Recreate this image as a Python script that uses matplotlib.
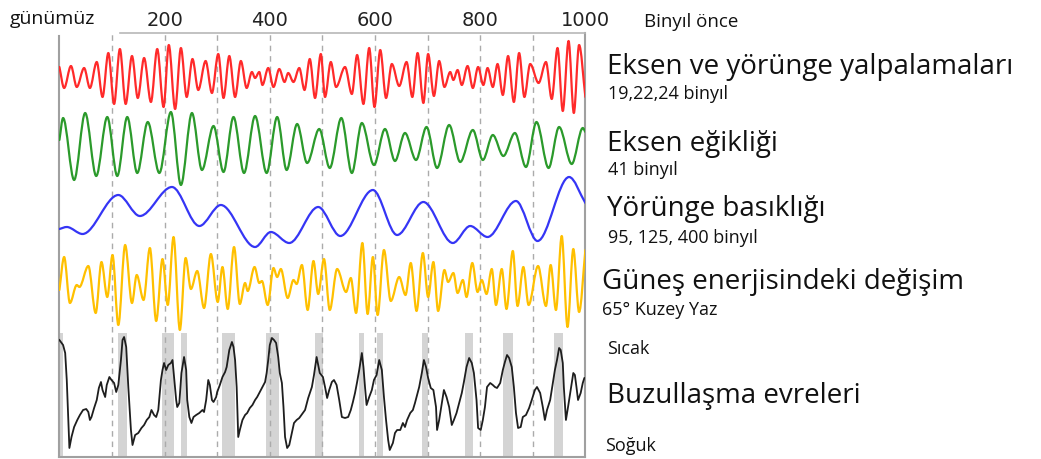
import matplotlib
matplotlib.use("Agg")
import matplotlib.pyplot as plt
from matplotlib.path import Path
from matplotlib.patches import PathPatch

# ---- data: time in thousands of years before present, amplitudes in relative units ----
red_kyr = [0, 9, 22, 33, 47, 58, 71, 82, 93, 104, 115, 126, 138, 149, 161, 174, 186, 198, 208, 220,
           231, 242, 253, 264, 278, 290, 302, 312, 323, 334, 345, 356, 366, 372, 380, 386, 397, 407, 418, 428,
           435, 445, 456, 466, 476, 486, 497, 505, 516, 526, 543, 556, 566, 578, 589, 599, 610, 621, 632, 646,
           660, 671, 681, 692, 701, 712, 722, 732, 743, 749, 757, 765, 776, 786, 796, 806, 814, 824, 833, 843,
           853, 864, 874, 884, 895, 911, 925, 936, 947, 957, 968, 978, 988, 1000]
red_val = [10, -11, 11, -10, 9, -11, 15, -20, 24, -27, 28, -27, 21, -21, 19, -25, 28, -30, 32, -32,
           29, -20, 18, -13, 16, -16, 23, -21, 21, -20, 16, -11, 5, -1, 5, -8, 9, -10, 8, -5,
           4, -5, 9, -13, 18, -21, 23, -20, 15, -10, 10, -17, 22, -27, 29, -30, 27, -21, 13, -9,
           15, -20, 24, -26, 23, -19, 16, -10, 5, -3, 7, -8, 11, -11, 10, -8, 9, -10, 13, -18,
           21, -25, 24, -20, 13, -6, 15, -22, 29, -34, 36, -36, 32, -20]

green_kyr = [0, 7, 28, 49, 70, 91, 110, 129, 148, 168, 190, 212, 231, 252, 271, 293, 312, 331, 351, 372,
             394, 414, 432, 452, 471, 494, 514, 536, 556, 575, 598, 619, 638, 657, 678, 698, 718, 741, 762, 786,
             805, 824, 844, 866, 887, 907, 930, 950, 974, 995, 1000]
green_val = [8, 30, -32, 35, -28, 31, -28, 31, -25, 26, -25, 36, -37, 35, -22, 22, -24, 31, -25, 32,
             -25, 31, -22, 24, -15, 19, -20, 30, -25, 25, -17, 19, -13, 15, -12, 21, -20, 23, -14, 18,
             -12, 13, -8, 15, -19, 26, -20, 21, -16, 20, 16]

blue_kyr = [0, 14, 44, 112, 153, 214, 266, 307, 372, 402, 437, 492, 534, 596, 642, 692, 748, 781, 814, 868,
            909, 969, 1000]
blue_val = [-17, -15, -22, 17, -4, 25, -14, 7, -35, -20, -31, 5, -24, 22, -23, 10, -31, -14, -25, 11,
            -29, 35, 9]

yellow_kyr = [0, 9, 20, 33, 38, 55, 69, 80, 91, 101, 112, 125, 138, 147, 160, 172, 184, 196, 206, 217,
              229, 240, 250, 262, 275, 288, 301, 310, 320, 332, 343, 353, 358, 371, 380, 385, 396, 407, 414, 421,
              434, 445, 451, 461, 472, 483, 492, 503, 514, 528, 545, 554, 564, 576, 586, 596, 605, 617, 630, 646,
              658, 668, 679, 691, 701, 711, 720, 732, 739, 749, 757, 767, 774, 785, 795, 803, 812, 822, 830, 841,
              850, 862, 871, 882, 892, 910, 925, 934, 944, 955, 966, 977, 988, 1000]
yellow_val = [-7, 26, -20, -2, -4, 17, -30, 21, -14, 28, -42, 38, -20, 8, -17, 35, -38, 24, -22, 46,
              -47, 25, -6, 12, -25, 29, -19, 16, -26, 36, -21, 0, -8, 16, 0, 2, -22, 15, 6, 14,
              -15, 3, -1, 18, -27, 22, -11, 24, -27, 14, -9, 5, -30, 40, -31, 26, -32, 33, -18, 6,
              -12, 20, -28, 30, -14, 21, -28, 13, 1, 10, -10, 3, -14, 20, -9, 3, -11, 14, -22, 14,
              -26, 32, -23, 16, -22, 17, -23, 18, -27, 47, -44, 34, -29, 33]

glacial_kyr = [0, 7, 11, 14, 17, 19, 23, 28, 34, 39, 45, 51, 55, 58, 61, 66, 71, 75, 79, 82,
               87, 90, 95, 99, 104, 108, 112, 117, 120, 123, 127, 131, 136, 139, 144, 150, 156, 161, 166, 171,
               175, 180, 184, 188, 193, 196, 199, 203, 207, 212, 215, 218, 222, 224, 228, 232, 237, 241, 243, 247,
               251, 255, 260, 266, 272, 275, 279, 283, 286, 290, 293, 298, 300, 305, 310, 315, 318, 323, 328, 331,
               334, 337, 340, 343, 348, 353, 357, 362, 367, 372, 376, 381, 386, 391, 394, 397, 400, 404, 408, 412,
               416, 419, 423, 426, 429, 433, 437, 442, 446, 451, 456, 467, 473, 480, 484, 489, 492, 495, 501, 505,
               509, 513, 518, 522, 527, 532, 537, 543, 549, 554, 558, 562, 566, 570, 575, 578, 581, 584, 589, 594,
               598, 603, 608, 613, 617, 621, 625, 628, 634, 638, 642, 648, 653, 657, 661, 667, 672, 676, 680, 684,
               689, 693, 697, 701, 706, 711, 716, 718, 722, 727, 731, 736, 741, 746, 750, 755, 760, 765, 769, 774,
               779, 784, 788, 793, 796, 801, 805, 809, 813, 819, 824, 828, 832, 838, 843, 847, 851, 855, 860, 864,
               868, 872, 877, 881, 887, 893, 898, 904, 908, 914, 919, 923, 927, 933, 938, 942, 946, 950, 953, 957,
               959, 963, 967, 972, 977, 980, 983, 986, 991, 995, 998, 1000]
glacial_val = [55, 50, 42, 15, -25, -53, -42, -32, -25, -20, -15, -14, -17, -25, -22, -13, -5, 7, 13, 5,
               -2, 10, 18, 15, 12, 3, 10, 35, 55, 58, 48, 8, -35, -50, -40, -38, -33, -30, -25, -22,
               -15, -20, -22, -15, 15, 25, 32, 25, 30, 32, 35, 18, -5, -12, -8, 22, 38, 25, -5, -22,
               -28, -22, -20, -18, -15, -17, -5, 15, 10, -5, -7, -2, 3, 10, 18, 23, 28, 45, 53, 48,
               35, 8, -42, -35, -25, -20, -18, -13, -10, -5, -2, 3, 8, 13, 22, 35, 50, 57, 55, 52,
               38, 22, 12, -12, -42, -53, -50, -38, -28, -25, -23, -15, -3, 8, 20, 38, 30, 22, 18, 8,
               -3, 5, 13, 15, 10, -5, -22, -23, -22, -15, -7, 2, 13, 25, 42, 28, 8, -10, -2, 5,
               15, 20, 35, 25, -2, -25, -45, -55, -48, -38, -35, -35, -28, -32, -25, -18, -15, -8, 0, 8,
               22, 35, 28, 17, 7, 5, -12, -35, -25, -8, 5, -2, -12, -30, -25, -18, -8, 2, 13, 28,
               37, 32, 22, -5, -33, -35, -25, -12, 8, 12, 10, 8, 7, 12, 25, 33, 40, 37, 28, 8,
               -18, -33, -32, -22, -20, -13, -5, 5, 8, 2, -12, -25, -15, -5, 12, 25, 35, 47, 45, 32,
               8, -25, -12, 5, 22, 20, 8, -5, 2, 12, 17, 17]

# interglacial (warm) intervals, kyr
warm_start = [0, 112, 196, 232, 310, 392, 485, 570, 604, 689, 772, 843, 941]
warm_end = [7, 129, 217, 242, 334, 418, 501, 579, 616, 701, 787, 863, 958]

tick_kyr = [200, 400, 600, 800, 1000]
grid_kyr = [100, 200, 300, 400, 500, 600, 700, 800, 900]

for a, b in [(red_kyr, red_val), (green_kyr, green_val), (blue_kyr, blue_val),
             (yellow_kyr, yellow_val), (glacial_kyr, glacial_val), (warm_start, warm_end)]:
    assert len(a) == len(b)

W, H = 1041, 459
fig = plt.figure(figsize=(W / 100, H / 100), dpi=100)

# plot area; vertical data units run downward from the top of the figure
x0, x1 = 59.4, 585.4
y_top, y_bot = 33, 457
ax = fig.add_axes([x0 / W, (H - y_bot) / H, (x1 - x0) / W, (y_bot - y_top) / H])
ax.set_xlim(0, 1000)
ax.set_ylim(y_bot, y_top)
ax.patch.set_alpha(0)


def smooth_path(xs, ys):
    """Cubic Bezier through turning points with flat tangents at each extremum."""
    verts = [(xs[0], ys[0])]
    codes = [Path.MOVETO]
    n = len(xs)
    for i in range(n - 1):
        dx = (xs[i + 1] - xs[i]) / 3.0
        dy = (ys[i + 1] - ys[i]) / 3.0
        c1 = (xs[i] + dx, ys[i] + (dy if i == 0 else 0))
        c2 = (xs[i + 1] - dx, ys[i + 1] - (dy if i == n - 2 else 0))
        verts += [c1, c2, (xs[i + 1], ys[i + 1])]
        codes += [Path.CURVE4] * 3
    return Path(verts, codes)


def draw_wave(xs, vals, base, color):
    ys = [base - v for v in vals]
    ax.add_patch(PathPatch(smooth_path(xs, ys), fill=False, edgecolor=color,
                           lw=1.6, joinstyle="round", capstyle="round", zorder=3))


# dashed 100-kyr guides
for g in grid_kyr:
    ax.axvline(g, color="#ababab", lw=1.0, ls=(0, (4, 3.5)), zorder=1)

# interglacial shading in the bottom panel
for a, b in zip(warm_start, warm_end):
    ax.fill_between([a, b], 333, y_bot, color="#d4d4d4", lw=0, zorder=0.5)

draw_wave(red_kyr, red_val, 77, "#ff2a2a")
draw_wave(green_kyr, green_val, 148, "#2b9a2b")
draw_wave(blue_kyr, blue_val, 212, "#3535f5")
draw_wave(yellow_kyr, yellow_val, 283, "#ffc000")
ax.plot(glacial_kyr, [395 - v for v in glacial_val], color="#1e1e1e", lw=1.3, zorder=3)

# frame
for side in ["left", "right", "top", "bottom"]:
    ax.spines[side].set_color("#a0a0a0")
    ax.spines[side].set_linewidth(1.5)
ax.spines["left"].set_bounds(y_bot, 36)
ax.spines["top"].set_bounds(115, 1000)
ax.spines["top"].set_color("#b8b8b8")
ax.spines["top"].set_linewidth(1.2)

ax.set_yticks([])
ax.xaxis.tick_top()
ax.set_xticks(tick_kyr)
ax.set_xticklabels([str(t) for t in tick_kyr])
ax.tick_params(axis="x", length=0, pad=2, labelsize=14, labelcolor="#222222")


def label(x, y, s, size, **kw):
    fig.text(x / W, 1 - y / H, s, fontsize=size, family="Open Sans",
             color="#111111", va="baseline", ha="left", **kw)


TITLE = 20
SUB = 13

label(10, 24, "günümüz", 14)
label(644, 27, "Binyıl önce", 13.5)

label(607, 74, "Eksen ve yörünge yalpalamaları", TITLE)
label(608, 99, "19,22,24 binyıl", SUB)
label(607, 151, "Eksen eğikliği", TITLE)
label(608, 175, "41 binyıl", SUB)
label(607, 216, "Yörünge basıklığı", TITLE)
label(608, 243, "95, 125, 400 binyıl", SUB)
label(602, 289, "Güneş enerjisindeki değişim", TITLE)
label(602, 315, "65° Kuzey Yaz", SUB)
label(607, 354, "Sıcak", SUB)
label(607, 403, "Buzullaşma evreleri", TITLE)
label(605, 451, "Soğuk", SUB)

fig.savefig("out.png", dpi=100)
